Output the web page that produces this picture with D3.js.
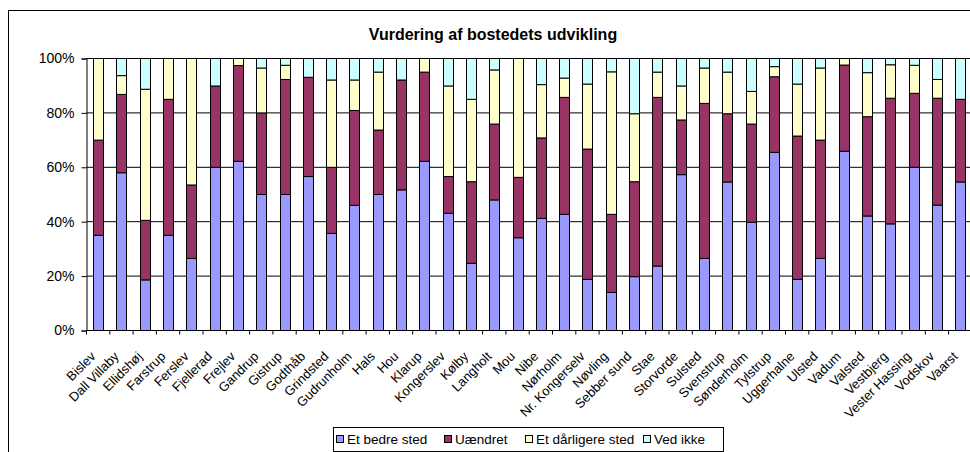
<!DOCTYPE html>
<html>
<head>
<meta charset="utf-8">
<script src="https://cdn.jsdelivr.net/npm/d3@7"></script>
<style>
  body { margin: 0; background: #fff; }
  text { font-family: "Liberation Sans", Arial, sans-serif; }
</style>
</head>
<body>
<script>
// data (percent of answers per town)
var categories = ["Bislev", "Dall Villaby", "Ellidshøj", "Farstrup", "Ferslev", "Fjellerad", "Frejlev",
    "Gandrup", "Gistrup", "Godthåb", "Grindsted", "Gudrunholm", "Hals", "Hou", "Klarup", "Kongerslev",
    "Kølby", "Langholt", "Mou", "Nibe", "Nørholm", "Nr. Kongerselv", "Nøvling", "Sebber sund", "Stae",
    "Storvorde", "Sulsted", "Svenstrup", "Sønderholm", "Tylstrup", "Uggerhalne", "Ulsted", "Vadum",
    "Valsted", "Vestbjerg", "Vester Hassing", "Vodskov", "Vaarst"];

var bedre = [35, 58, 18.6, 35, 26.5, 60, 62.2, 50, 50, 56.6, 35.7, 46, 50, 51.7, 62.2, 43.1, 24.7, 48, 34.1,
    41.2, 42.7, 18.8, 14, 19.8, 23.7, 57.3, 26.5, 54.6, 39.8, 65.5, 18.8, 26.5, 65.9, 42.1, 39.2, 60, 46.1, 54.6];
var uaendret = [35, 28.8, 21.9, 50, 27, 29.9, 35.2, 30, 42.3, 36.5, 24.3, 34.9, 23.7, 40.4, 32.8, 13.5, 30, 27.9, 22.2,
    29.6, 43, 47.9, 28.7, 34.9, 62, 20.1, 57, 25.1, 36.1, 27.8, 52.7, 43.5, 31.7, 36.5, 46.2, 27.2, 39.3, 30.4];
var daarligere = [30, 6.9, 48.2, 15, 46.5, 0, 2.6, 16.5, 5.2, 0, 32.1, 11.2, 21.3, 0, 5, 33.3, 30.3, 19.9, 43.7,
    19.6, 7.1, 23.9, 52.4, 25, 9.3, 12.5, 13, 15.3, 12, 3.7, 19.1, 26.5, 2.4, 16.2, 12.3, 10.3, 6.9, 0];
var vedIkke = [0, 6.3, 11.3, 0, 0, 10.1, 0, 3.5, 2.5, 6.9, 7.9, 7.9, 5, 7.9, 0, 10.1, 15, 4.2, 0,
    9.6, 7.2, 9.4, 4.9, 20.3, 5, 10.1, 3.5, 5, 12.1, 3, 9.4, 3.5, 0, 5.2, 2.3, 2.5, 7.7, 15];

var seriesNames = ["Et bedre sted", "Uændret", "Et dårligere sted", "Ved ikke"];
var seriesColors = ["#9999FF", "#993366", "#FFFFCC", "#CCFFFF"];
var yTicks = [0, 0.2, 0.4, 0.6, 0.8, 1];

var width = 970, height = 452;
var margin = {top: 58.5, left: 86.5, bottom: 330.5};
var step = 23.3;

var svg = d3.select("body").append("svg")
    .attr("width", width)
    .attr("height", height);

svg.append("rect").attr("width", width).attr("height", height).attr("fill", "#fff");

// chart frame (runs off the right / bottom edge like in the picture)
svg.append("rect")
    .attr("x", 8.5).attr("y", 10.5)
    .attr("width", 1000).attr("height", 500)
    .attr("fill", "none").attr("stroke", "#000").attr("stroke-width", 1);

svg.append("text")
    .attr("x", 493).attr("y", 40)
    .attr("text-anchor", "middle")
    .attr("font-size", "16px").attr("font-weight", "bold")
    .text("Vurdering af bostedets udvikling");

var rows = categories.map(function(c, i) {
    return {key: c, s0: bedre[i], s1: uaendret[i], s2: daarligere[i], s3: vedIkke[i]};
});

var stack = d3.stack()
    .keys(["s0", "s1", "s2", "s3"])
    .offset(d3.stackOffsetExpand);
var stacked = stack(rows);

var xScale = d3.scaleBand()
    .domain(categories)
    .range([margin.left, margin.left + step * categories.length])
    .padding(0);

var yScale = d3.scaleLinear().domain([0, 1]).range([margin.bottom, margin.top]);

// gridlines
svg.append("g")
    .selectAll("line")
    .data(yTicks.slice(1))
    .enter().append("line")
    .attr("x1", margin.left).attr("x2", width)
    .attr("y1", function(d) { return yScale(d); })
    .attr("y2", function(d) { return yScale(d); })
    .attr("stroke", "#000").attr("stroke-width", 1);

var barW = 10;
svg.append("g")
    .selectAll("g")
    .data(stacked)
    .enter().append("g")
    .attr("fill", function(d, i) { return seriesColors[i]; })
    .selectAll("rect")
    .data(function(d) { return d; })
    .enter().append("rect")
    .attr("x", function(d) { return Math.round(xScale(d.data.key) + (xScale.bandwidth() - barW) / 2) + 0.5; })
    .attr("y", function(d) { return yScale(d[1]); })
    .attr("width", barW)
    .attr("height", function(d) { return yScale(d[0]) - yScale(d[1]); })
    .attr("stroke", "#000").attr("stroke-width", 1);

// y axis
var yAxis = d3.axisLeft(yScale).tickValues(yTicks).tickFormat(d3.format(".0%")).tickSize(5).tickPadding(7);
var gy = svg.append("g")
    .attr("transform", "translate(" + margin.left + ",0)")
    .call(yAxis);
gy.selectAll("text").attr("font-size", "14px").attr("fill", "#000").style("font-family", "Liberation Sans, Arial, sans-serif");
gy.selectAll("line").attr("stroke", "#000");
gy.select(".domain").attr("stroke", "#000");

// x axis: baseline, boundary ticks and rotated labels
var gx = svg.append("g");
gx.append("line")
    .attr("x1", margin.left).attr("x2", width)
    .attr("y1", margin.bottom).attr("y2", margin.bottom)
    .attr("stroke", "#000");
gx.selectAll(".tick")
    .data(categories)
    .enter().append("line")
    .attr("x1", function(d) { return xScale(d); })
    .attr("x2", function(d) { return xScale(d); })
    .attr("y1", margin.bottom).attr("y2", margin.bottom + 4)
    .attr("stroke", "#000");
gx.selectAll("text")
    .data(categories)
    .enter().append("text")
    .attr("transform", function(d) {
        return "translate(" + (xScale(d) + xScale.bandwidth() / 2 - 5) + "," + 354 + ") rotate(-45)";
    })
    .attr("text-anchor", "end")
    .attr("dy", "0.35em")
    .attr("font-size", "13px")
    .text(function(d) { return d; });

// legend
var legend = svg.append("g");
legend.append("rect")
    .attr("x", 333.5).attr("y", 427.5)
    .attr("width", 390).attr("height", 24)
    .attr("fill", "#fff").attr("stroke", "#000");
var legendX = [336, 444, 525, 643];
seriesNames.forEach(function(name, i) {
    legend.append("rect")
        .attr("x", legendX[i] + 0.5).attr("y", 435.5)
        .attr("width", 7).attr("height", 7)
        .attr("fill", seriesColors[i]).attr("stroke", "#000");
    legend.append("text")
        .attr("x", legendX[i] + 11).attr("y", 444)
        .attr("font-size", "13.5px")
        .text(name);
});
</script>
</body>
</html>
